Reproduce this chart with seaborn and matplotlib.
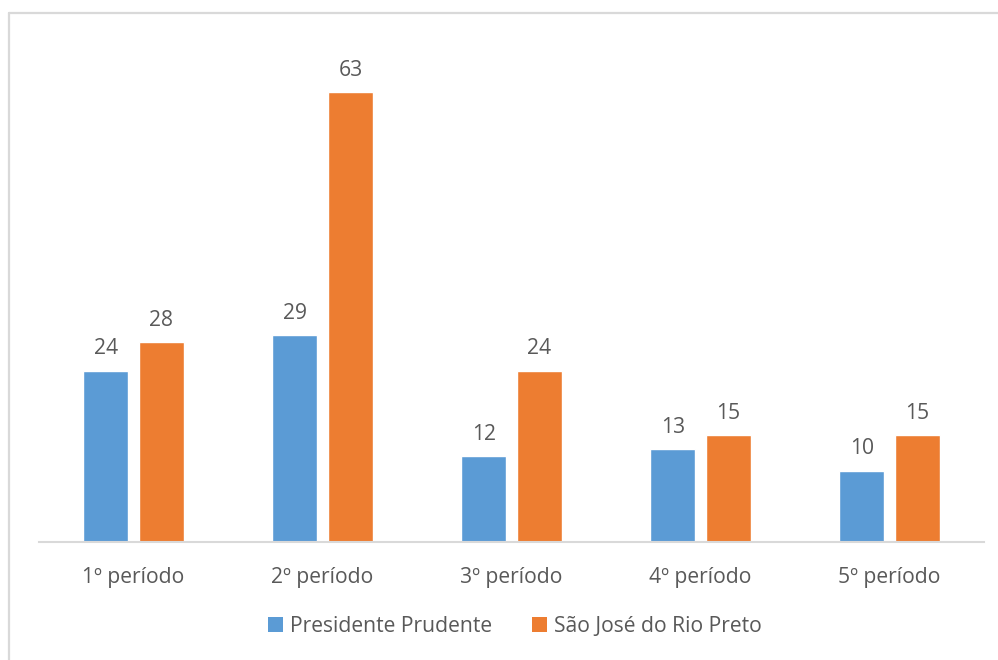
import matplotlib
matplotlib.use("Agg")
import matplotlib.pyplot as plt
from matplotlib.patches import Patch
from matplotlib.lines import Line2D
import seaborn as sns
import pandas as pd

periods = ["1º período", "2º período", "3º período", "4º período", "5º período"]
series_names = ["Presidente Prudente", "São José do Rio Preto"]
prudente = [24, 29, 12, 13, 10]
rio_preto = [28, 63, 24, 15, 15]
colors = ["#5B9BD5", "#ED7D31"]

df = pd.DataFrame({
    "periodo": periods * 2,
    "cidade": [series_names[0]] * len(periods) + [series_names[1]] * len(periods),
    "valor": prudente + rio_preto,
})

sns.set_theme(style="white")
plt.rcParams["font.family"] = ["Open Sans", "DejaVu Sans"]
text_color = "#595959"
fs = 15.2

fig = plt.figure(figsize=(9.98, 6.6), dpi=100)
ax = fig.add_axes([0.0391, 0.1788, 0.947, 0.7576])

sns.barplot(data=df, x="periodo", y="valor", hue="cidade", order=periods,
            hue_order=series_names, palette=colors, width=0.59, gap=0.2,
            saturation=1, ax=ax, legend=False)

for container in ax.containers:
    ax.bar_label(container, padding=8, fontsize=fs, color=text_color)

ax.set_xlim(-0.5, len(periods) - 0.5)
ax.set_ylim(0, 70)
ax.set_xlabel("")
ax.set_ylabel("")
ax.set_yticks([])
ax.tick_params(axis="x", length=0, labelsize=fs, labelcolor=text_color, pad=18)
for side in ["left", "right", "top"]:
    ax.spines[side].set_visible(False)
ax.spines["bottom"].set_color("#D9D9D9")
ax.spines["bottom"].set_linewidth(1.5)

handles = [Patch(facecolor=c, edgecolor="none") for c in colors]
fig.legend(handles, series_names, loc="center", bbox_to_anchor=(0.516, 0.051),
           ncol=2, frameon=False, fontsize=fs, labelcolor=text_color,
           handlelength=0.7, handleheight=0.7, handletextpad=0.35,
           columnspacing=1.9)

# outer frame (left and top edges visible)
fig.add_artist(Line2D([0.0095, 0.0095], [0.0, 0.981], transform=fig.transFigure,
                      color="#D9D9D9", linewidth=1.6))
fig.add_artist(Line2D([0.0095, 1.0], [0.981, 0.981], transform=fig.transFigure,
                      color="#D9D9D9", linewidth=1.6))

fig.savefig("out.png", dpi=100, facecolor="white")
